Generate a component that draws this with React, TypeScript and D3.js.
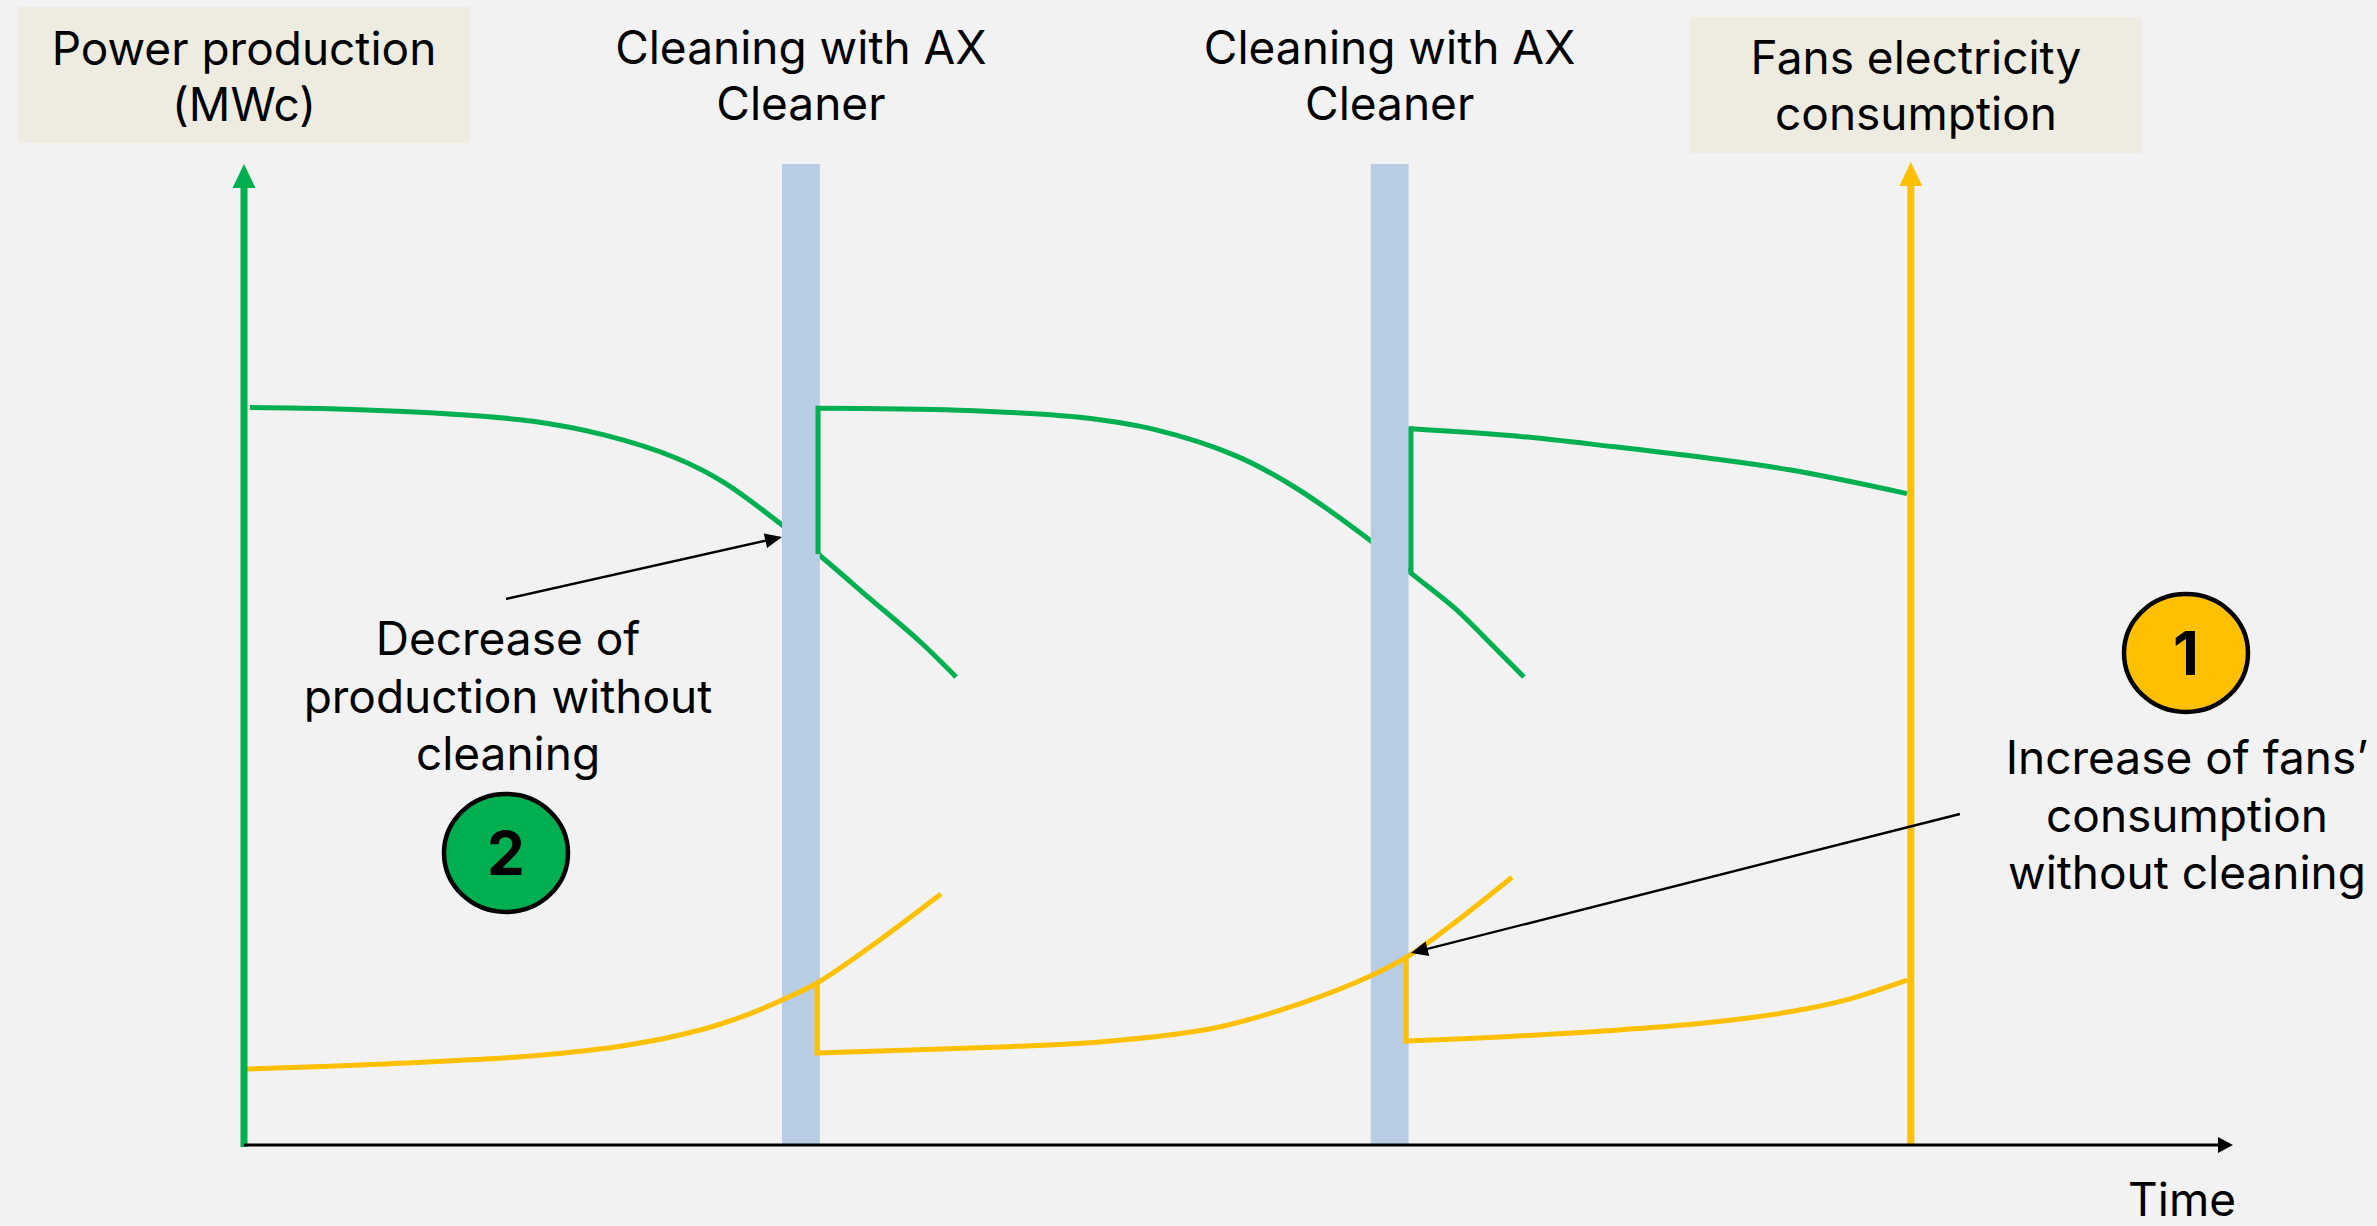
import { useEffect, useRef } from "react";
import * as d3 from "d3";

const WIDTH = 2377;
const HEIGHT = 1226;

// time of each cleaning (centre of the band) and how long it lasts
const cleaningTimes = [28, 57.6];
const cleaningDuration = 1.9;
const fanAxisTime = 83.8;

// power production, one run per period between cleanings: [time, value]
const productionRun1: [number, number][] = [
  [0.3, 75.18], [4.68, 75.03], [9.55, 74.62], [14.43, 73.8], [18.1, 72.38],
  [21.72, 70.03], [24.18, 67.48], [27.05, 63.2], [28.86, 60.24],
  [31.47, 55.7], [33.94, 51.4], [35.8, 47.71],
];
const productionRun2: [number, number][] = [
  [28.86, 75.1], [35.9, 74.9], [41.88, 74.2], [45.85, 72.9], [49.82, 70.3],
  [52.79, 67.1], [56.71, 61.5], [58.67, 58.3], [60.94, 54.6], [62.49, 51.5],
  [64.35, 47.7],
];
const productionRun3: [number, number][] = [
  [58.67, 73.0], [64.3, 72.2], [68.78, 71.2], [73.3, 70.1], [77.78, 68.8],
  [83.61, 66.4],
];
// jump after each cleaning: [time, from, to]
const productionJumps: [number, number, number][] = [
  [28.86, 60.24, 75.1],
  [58.67, 58.3, 73.0],
];

// fans electricity consumption
const consumptionRun1: [number, number][] = [
  [0.15, 7.75], [7.09, 8.26], [14.43, 9.07], [19.31, 10.19], [22.93, 11.72],
  [25.39, 13.35], [27.05, 14.78], [28.81, 16.51], [31.47, 20.18], [35.04, 25.59],
];
const consumptionRun2: [number, number][] = [
  [28.81, 9.38], [38.01, 9.99], [43.04, 10.5], [48.72, 11.9], [53.09, 14.4],
  [56.71, 17.3], [58.57, 19.3], [61.14, 23.1], [63.75, 27.3],
];
const consumptionRun3: [number, number][] = [
  [58.42, 10.6], [63.15, 11.0], [68.18, 11.6], [73.3, 12.4], [77.78, 13.6],
  [80.75, 14.9], [83.61, 16.8],
];
const consumptionJumps: [number, number, number][] = [
  [28.81, 16.51, 9.38],
  [58.42, 18.9, 10.6],
];

const GREEN = "#00b050";
const YELLOW = "#ffc000";
const BAND = "#b8cce4";
const BOX = "#eeece1";
const FONT = "Inter, 'Open Sans', sans-serif";

export default function App() {
  const svgRef = useRef<SVGSVGElement>(null);

  useEffect(() => {
    if (!svgRef.current) return;
    const svg = d3.select(svgRef.current);
    svg.selectAll("*").remove();

    const x = d3.scaleLinear().domain([0, 100]).range([244, 2233]);
    const y = d3.scaleLinear().domain([0, 100]).range([1145, 164]);

    const line = d3
      .line<[number, number]>()
      .x((d) => x(d[0]))
      .y((d) => y(d[1]))
      .curve(d3.curveCatmullRom.alpha(0.5));

    const arrowHead = (
      g: any,
      x1: number,
      y1: number,
      x2: number,
      y2: number,
      len: number,
      half: number,
      color: string,
    ) => {
      const a = Math.atan2(y2 - y1, x2 - x1);
      const bx = x2 - len * Math.cos(a);
      const by = y2 - len * Math.sin(a);
      const px = -Math.sin(a) * half;
      const py = Math.cos(a) * half;
      g.append("path")
        .attr("d", `M${x2},${y2}L${bx + px},${by + py}L${bx - px},${by - py}Z`)
        .attr("fill", color);
    };

    svg.append("rect").attr("width", WIDTH).attr("height", HEIGHT).attr("fill", "#f2f2f2");

    // header boxes
    svg.append("rect").attr("x", 18).attr("y", 7).attr("width", 452).attr("height", 136).attr("fill", BOX);
    svg.append("rect").attr("x", 1690).attr("y", 17).attr("width", 452).attr("height", 136).attr("fill", BOX);

    const headers = [
      { cx: 244, lines: ["Power production", "(MWc)"], y0: 65 },
      { cx: x(cleaningTimes[0]), lines: ["Cleaning with AX", "Cleaner"], y0: 64 },
      { cx: x(cleaningTimes[1]), lines: ["Cleaning with AX", "Cleaner"], y0: 64 },
      { cx: 1916, lines: ["Fans electricity", "consumption"], y0: 74 },
    ];
    headers.forEach((h) => {
      h.lines.forEach((t, i) => {
        svg.append("text")
          .attr("x", h.cx)
          .attr("y", h.y0 + i * 56)
          .attr("text-anchor", "middle")
          .attr("font-family", FONT)
          .attr("font-size", 46)
          .attr("fill", "#000")
          .text(t);
      });
    });

    // production runs sit under the cleaning bands
    [productionRun1, productionRun2, productionRun3].forEach((run) => {
      svg.append("path")
        .datum(run)
        .attr("d", line)
        .attr("fill", "none")
        .attr("stroke", GREEN)
        .attr("stroke-width", 5);
    });

    // cleaning bands
    svg.selectAll(".band")
      .data(cleaningTimes)
      .enter()
      .append("rect")
      .attr("class", "band")
      .attr("x", (d) => x(d - cleaningDuration / 2))
      .attr("y", y(100))
      .attr("width", (d) => x(d + cleaningDuration / 2) - x(d - cleaningDuration / 2))
      .attr("height", y(0) - y(100))
      .attr("fill", BAND);

    // production jumps after cleaning
    productionJumps.forEach(([t, a, b]) => {
      svg.append("line")
        .attr("x1", x(t)).attr("x2", x(t))
        .attr("y1", y(a)).attr("y2", y(b) - 2.5)
        .attr("stroke", GREEN)
        .attr("stroke-width", 5);
    });

    // consumption runs
    [consumptionRun1, consumptionRun2, consumptionRun3].forEach((run) => {
      svg.append("path")
        .datum(run)
        .attr("d", line)
        .attr("fill", "none")
        .attr("stroke", YELLOW)
        .attr("stroke-width", 5);
    });
    consumptionJumps.forEach(([t, a, b]) => {
      svg.append("line")
        .attr("x1", x(t)).attr("x2", x(t))
        .attr("y1", y(a)).attr("y2", y(b) + 2.5)
        .attr("stroke", YELLOW)
        .attr("stroke-width", 5);
    });

    // axes
    svg.append("line")
      .attr("x1", x(0)).attr("x2", x(0))
      .attr("y1", y(0) + 2).attr("y2", y(100) + 18)
      .attr("stroke", GREEN).attr("stroke-width", 7);
    arrowHead(svg, x(0), y(0), x(0), y(100), 24, 11.5, GREEN);

    svg.append("line")
      .attr("x1", x(fanAxisTime)).attr("x2", x(fanAxisTime))
      .attr("y1", y(0)).attr("y2", y(100) + 18)
      .attr("stroke", YELLOW).attr("stroke-width", 7);
    arrowHead(svg, x(fanAxisTime), y(0), x(fanAxisTime), y(100) - 2, 24, 11.5, YELLOW);

    svg.append("line")
      .attr("x1", x(0)).attr("x2", x(100) - 10)
      .attr("y1", y(0)).attr("y2", y(0))
      .attr("stroke", "#000").attr("stroke-width", 3);
    arrowHead(svg, x(0), y(0), x(100), y(0), 15, 8, "#000");

    svg.append("text")
      .attr("x", 2236).attr("y", 1216)
      .attr("text-anchor", "end")
      .attr("font-family", FONT)
      .attr("font-size", 46)
      .text("Time");

    // annotation arrows
    const annotations = [
      { from: [13.17, 55.66], to: [27.05, 61.98] },
      { from: [86.27, 33.74], to: [58.67, 19.57] },
    ];
    annotations.forEach((a) => {
      const x1 = x(a.from[0]), y1 = y(a.from[1]);
      const x2 = x(a.to[0]), y2 = y(a.to[1]);
      const ang = Math.atan2(y2 - y1, x2 - x1);
      svg.append("line")
        .attr("x1", x1).attr("y1", y1)
        .attr("x2", x2 - 12 * Math.cos(ang)).attr("y2", y2 - 12 * Math.sin(ang))
        .attr("stroke", "#000").attr("stroke-width", 2.4);
      arrowHead(svg, x1, y1, x2, y2, 17, 7.5, "#000");
    });

    const notes = [
      { cx: 508, y0: 655, lines: ["Decrease of", "production without", "cleaning"] },
      { cx: 2187, y0: 774, lines: ["Increase of fans\u2019", "consumption", "without cleaning"] },
    ];
    notes.forEach((n) => {
      n.lines.forEach((t, i) => {
        svg.append("text")
          .attr("x", n.cx)
          .attr("y", n.y0 + i * 57.5)
          .attr("text-anchor", "middle")
          .attr("font-family", FONT)
          .attr("font-size", 46)
          .text(t);
      });
    });

    const badges = [
      { cx: 506, cy: 853, fill: GREEN, label: "2" },
      { cx: 2186, cy: 653, fill: YELLOW, label: "1" },
    ];
    badges.forEach((b) => {
      svg.append("ellipse")
        .attr("cx", b.cx).attr("cy", b.cy)
        .attr("rx", 62).attr("ry", 59)
        .attr("fill", b.fill)
        .attr("stroke", "#000")
        .attr("stroke-width", 4.5);
      svg.append("text")
        .attr("x", b.cx).attr("y", b.cy + 22)
        .attr("text-anchor", "middle")
        .attr("font-family", FONT)
        .attr("font-weight", 700)
        .attr("font-size", 60)
        .text(b.label);
    });
  }, []);

  return (
    <svg
      ref={svgRef}
      width={WIDTH}
      height={HEIGHT}
      viewBox={`0 0 ${WIDTH} ${HEIGHT}`}
      style={{ position: "absolute", left: 0, top: 0, display: "block" }}
    />
  );
}
